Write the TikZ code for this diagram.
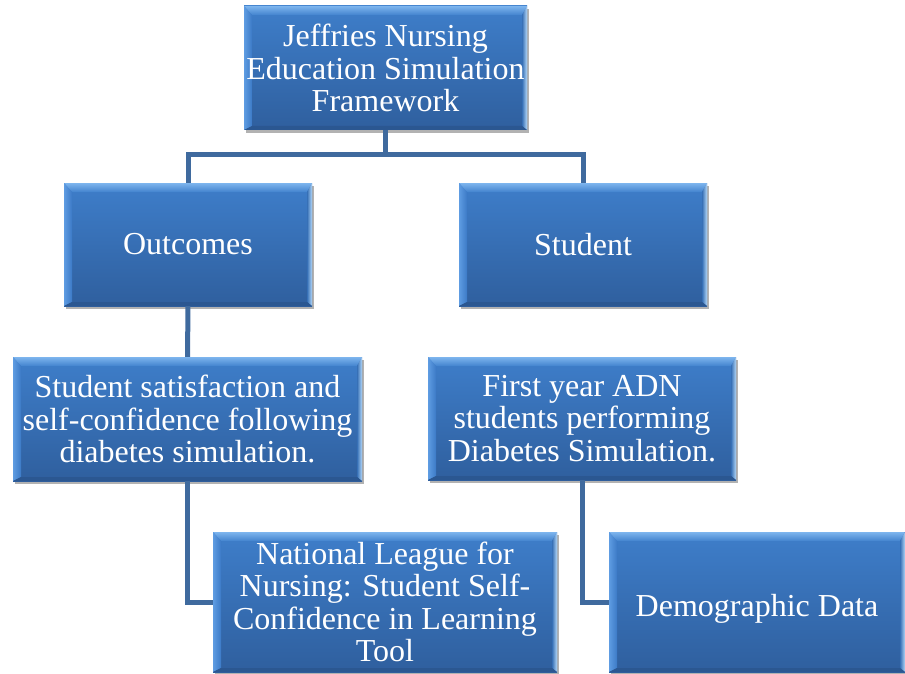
\documentclass[tikz,border=0pt]{standalone}
\usepackage{fontspec}
\setmainfont{Liberation Serif}
\usetikzlibrary{calc,shadows}
\definecolor{cMainT}{HTML}{3E7ECA}
\definecolor{cMainB}{HTML}{2F5F9E}
\definecolor{cTopA}{HTML}{7DB5EE}
\definecolor{cTopB}{HTML}{4383CE}
\definecolor{cLeftA}{HTML}{5E9CE2}
\definecolor{cLeftB}{HTML}{3C7AC6}
\definecolor{cRightA}{HTML}{3770B6}
\definecolor{cRightB}{HTML}{B2D7F8}
\definecolor{cBot}{HTML}{2B5791}
\definecolor{cLink}{HTML}{3F6A9E}
\begin{document}
\begin{tikzpicture}[x=1pt,y=-1pt,
  bev/.style={rectangle, inner sep=2pt, text=white, align=center,
    font=\fontsize{32}{32.5}\selectfont,
    top color=cMainT, bottom color=cMainB,
    drop shadow={shadow xshift=2pt, shadow yshift=-3pt, opacity=0.3, fill=black},
    path picture={
      \path (path picture bounding box.north west) coordinate (A)
            (path picture bounding box.north east) coordinate (B)
            (path picture bounding box.south east) coordinate (C)
            (path picture bounding box.south west) coordinate (D);
      \shade[top color=cTopA, bottom color=cTopB] (A) -- (B) -- ($(B)+(-5pt,-9pt)$) -- ($(A)+(8pt,-9pt)$) -- cycle;
      \shade[left color=cLeftA, right color=cLeftB] (A) -- ($(A)+(8pt,-9pt)$) -- ($(D)+(8pt,4pt)$) -- (D) -- cycle;
      \shade[left color=cRightA, right color=cRightB] (B) -- (C) -- ($(C)+(-5pt,4pt)$) -- ($(B)+(-5pt,-9pt)$) -- cycle;
      \fill[cBot] (D) -- ($(D)+(8pt,4pt)$) -- ($(C)+(-5pt,4pt)$) -- (C) -- cycle;
    }},
  link/.style={draw=cLink, line width=5pt}]
\useasboundingbox (0,0) rectangle (905,674);

\node[bev, minimum width=283pt, minimum height=124pt] (top) at (385.5,68) {Jeffries Nursing\\Education Simulation\\Framework};
\node[bev, minimum width=248pt, minimum height=123pt] (out) at (188,244.5) {Outcomes};
\node[bev, minimum width=248pt, minimum height=123pt] (stu) at (583,244.5) {Student};
\node[bev, minimum width=349pt, minimum height=124pt] (sat) at (187.5,419) {Student satisfaction and\\self-confidence following\\diabetes simulation.};
\node[bev, minimum width=308pt, minimum height=123pt] (fy) at (582,418.5) {First year ADN\\students performing\\Diabetes Simulation.};
\node[bev, minimum width=344pt, minimum height=140pt] (nln) at (385,602) {National League for\\Nursing: Student Self-\\Confidence in Learning\\Tool};
\node[bev, minimum width=296pt, minimum height=140pt] (demo) at (757,602) {\raisebox{-14pt}[0pt][0pt]{Demographic Data}};

\coordinate (bus) at (385.5,155);
\draw[link] (top.south) -- (bus);
\draw[link, line join=miter] (bus) -| (out.north);
\draw[link, line join=miter] (bus) -| (stu.north);
\draw[link] (out.south) -- (sat.north);
\draw[link, line join=miter] (sat.south) |- (nln.west);
\draw[link, line join=miter] (fy.south) |- (demo.west);
\end{tikzpicture}
\end{document}
